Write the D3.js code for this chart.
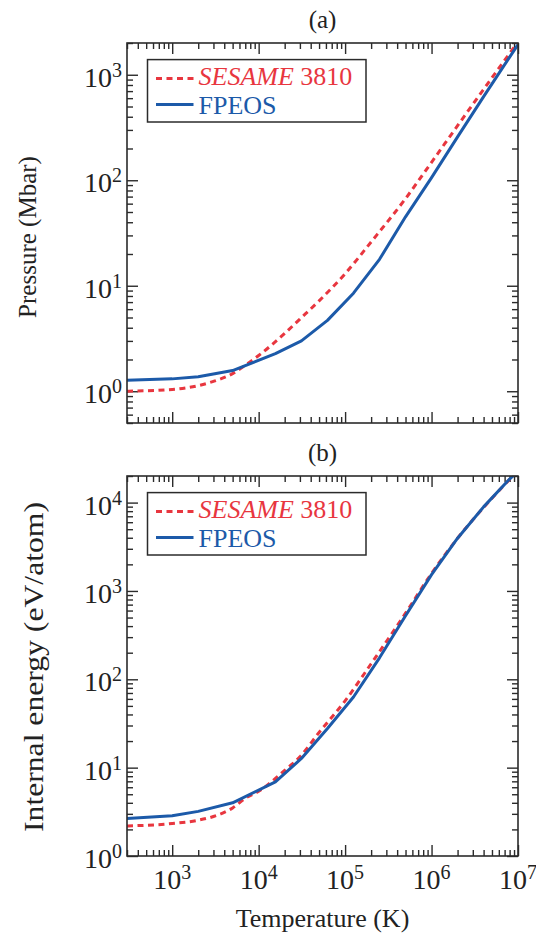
<!DOCTYPE html>
<html>
<head>
<meta charset="utf-8">
<script src="https://cdn.jsdelivr.net/npm/d3@7"></script>
<style>
  html, body { margin: 0; padding: 0; background: #fff; }
  svg { display: block; font-family: "Liberation Serif", "Times New Roman", serif; }
</style>
</head>
<body>
<svg id="chart" width="536" height="934"></svg>
<script>
// Temperature grid (K) and values for each equation-of-state table
const fpeosTemps    = [300, 1000, 2000, 5000, 15625, 31250, 62500, 125000, 250000, 500000, 1e6, 2e6, 4e6, 8e6, 1e7];
const fpeosPressure = [1.27, 1.31, 1.37, 1.57, 2.27, 3.0, 4.7, 8.5, 17.8, 45, 106, 258, 620, 1470, 1930];
const fpeosEnergy   = [2.65, 2.85, 3.2, 4.0, 6.9, 12.7, 27.7, 63, 175, 525, 1530, 3950, 8940, 18460, 22700];

const sesameTemps    = [300, 1000, 2000, 3000, 5000, 7000, 10000, 20000, 30000, 50000, 1e5, 2e5, 5e5, 1e6, 2e6, 5e6, 1e7];
const sesamePressure = [1.0, 1.04, 1.13, 1.24, 1.47, 1.76, 2.18, 3.53, 4.83, 7.19, 13.0, 26.0, 67, 148, 329, 938, 2050];
const sesameEnergy   = [2.19, 2.33, 2.54, 2.8, 3.5, 4.5, 5.4, 9.3, 13.3, 25, 57, 150, 560, 1580, 3950, 11200, 23000];

// Axis ticks (powers of ten) and labels
const xMajor = [1e3, 1e4, 1e5, 1e6, 1e7];
const xLabels = ["3", "4", "5", "6", "7"];
const pressureMajor = [1, 10, 100, 1000];
const pressureLabels = ["0", "1", "2", "3"];
const energyMajor = [1, 10, 100, 1000, 10000];
const energyLabels = ["0", "1", "2", "3", "4"];

const seriesNames = { sesameItalic: "SESAME", sesameRest: " 3810", fpeos: "FPEOS" };
const RED = "#e8363f", BLUE = "#1c5aa9", INK = "#2b2b2b";

const svg = d3.select("#chart");
const left = 127, right = 518;

const x = d3.scaleLog().domain([300, 1e7]).range([left, right]);

function minorTicks(lo, hi) {
  const out = [];
  for (let e = Math.floor(Math.log10(lo)); e <= Math.ceil(Math.log10(hi)); e++) {
    for (let m = 2; m <= 9; m++) {
      const v = m * Math.pow(10, e);
      if (v >= lo * 0.999 && v <= hi * 1.001) out.push(v);
    }
  }
  return out;
}

function panel(cfg) {
  const { top, bottom, yDomain, yMajor, yLabels, fpeosVals, sesameVals, letter,
          yTitle, yTitleX, yTitleY, yTitleSize, yTitleLength, showXLabels, clipId } = cfg;
  const y = d3.scaleLog().domain(yDomain).range([bottom, top]);
  const g = svg.append("g");

  svg.append("clipPath").attr("id", clipId)
    .append("rect").attr("x", left).attr("y", top).attr("width", right - left).attr("height", bottom - top);

  const xMin = minorTicks(300, 1e7).filter(v => !xMajor.includes(v));
  const yMin = minorTicks(yDomain[0], yDomain[1]).filter(v => !yMajor.includes(v));

  function styleAxis(sel) {
    sel.select(".domain").remove();
    sel.selectAll(".tick line").attr("stroke", INK).attr("stroke-width", 1.4);
    sel.selectAll(".tick text").remove();
  }

  // bottom / top axes, ticks pointing inward
  g.append("g").attr("transform", `translate(0,${bottom})`)
    .call(d3.axisBottom(x).tickValues(xMajor).tickSize(-11).tickFormat("")).call(styleAxis);
  g.append("g").attr("transform", `translate(0,${bottom})`)
    .call(d3.axisBottom(x).tickValues(xMin).tickSize(-6).tickFormat("")).call(styleAxis);
  g.append("g").attr("transform", `translate(0,${top})`)
    .call(d3.axisTop(x).tickValues(xMajor).tickSize(-11).tickFormat("")).call(styleAxis);
  g.append("g").attr("transform", `translate(0,${top})`)
    .call(d3.axisTop(x).tickValues(xMin).tickSize(-6).tickFormat("")).call(styleAxis);

  // left / right axes
  g.append("g").attr("transform", `translate(${left},0)`)
    .call(d3.axisLeft(y).tickValues(yMajor).tickSize(-11).tickFormat("")).call(styleAxis);
  g.append("g").attr("transform", `translate(${left},0)`)
    .call(d3.axisLeft(y).tickValues(yMin).tickSize(-6).tickFormat("")).call(styleAxis);
  g.append("g").attr("transform", `translate(${right},0)`)
    .call(d3.axisRight(y).tickValues(yMajor).tickSize(-11).tickFormat("")).call(styleAxis);
  g.append("g").attr("transform", `translate(${right},0)`)
    .call(d3.axisRight(y).tickValues(yMin).tickSize(-6).tickFormat("")).call(styleAxis);

  // curves
  const plot = g.append("g").attr("clip-path", `url(#${clipId})`);
  const sesameLine = d3.line().x(d => x(d[0])).y(d => y(d[1])).curve(d3.curveMonotoneX);
  const fpeosLine = d3.line().x(d => x(d[0])).y(d => y(d[1]));
  plot.append("path")
    .datum(sesameTemps.map((t, i) => [t, sesameVals[i]]))
    .attr("d", sesameLine).attr("fill", "none").attr("stroke", RED)
    .attr("stroke-width", 3).attr("stroke-dasharray", "6,4.5");
  plot.append("path")
    .datum(fpeosTemps.map((t, i) => [t, fpeosVals[i]]))
    .attr("d", fpeosLine).attr("fill", "none").attr("stroke", BLUE)
    .attr("stroke-width", 3).attr("stroke-linejoin", "round");

  // frame
  g.append("rect").attr("x", left).attr("y", top).attr("width", right - left).attr("height", bottom - top)
    .attr("fill", "none").attr("stroke", INK).attr("stroke-width", 1.6);

  // y tick labels
  const yl = g.append("g").attr("fill", "#222");
  yMajor.forEach((v, i) => {
    const t = yl.append("text").attr("x", left - 5).attr("y", y(v) + 12)
      .attr("text-anchor", "end").attr("font-size", 28);
    t.append("tspan").text("10");
    t.append("tspan").attr("dy", -10).attr("font-size", 20).text(yLabels[i]);
  });

  // x tick labels
  if (showXLabels) {
    xMajor.forEach((v, i) => {
      const t = g.append("text").attr("x", x(v)).attr("y", bottom + 33)
        .attr("text-anchor", "middle").attr("font-size", 28).attr("fill", "#222");
      t.append("tspan").text("10");
      t.append("tspan").attr("dy", -10).attr("font-size", 20).text(xLabels[i]);
    });
  }

  // panel letter
  g.append("text").attr("x", (left + right) / 2).attr("y", top - 15)
    .attr("text-anchor", "middle").attr("font-size", 25).attr("fill", "#222").text(letter);

  // y title
  const yt = g.append("text").attr("transform", `translate(${yTitleX},${yTitleY}) rotate(-90)`)
    .attr("text-anchor", "middle").attr("font-size", yTitleSize).attr("fill", "#222").text(yTitle);
  if (yTitleLength) yt.attr("textLength", yTitleLength).attr("lengthAdjust", "spacingAndGlyphs");

  // legend
  const lx = 147.5, ly = top + 16.6;
  const lg = g.append("g");
  lg.append("rect").attr("x", lx).attr("y", ly).attr("width", 218.5).attr("height", 62.4)
    .attr("fill", "#fff").attr("stroke", INK).attr("stroke-width", 1.5);
  lg.append("line").attr("x1", lx + 8.5).attr("x2", lx + 46).attr("y1", ly + 19).attr("y2", ly + 19)
    .attr("stroke", RED).attr("stroke-width", 3).attr("stroke-dasharray", "6,4.5");
  const st = lg.append("text").attr("x", lx + 51).attr("y", ly + 25).attr("font-size", 26).attr("fill", RED);
  st.append("tspan").attr("font-style", "italic").text(seriesNames.sesameItalic);
  st.append("tspan").text(seriesNames.sesameRest);
  lg.append("line").attr("x1", lx + 8.5).attr("x2", lx + 46).attr("y1", ly + 45).attr("y2", ly + 45)
    .attr("stroke", BLUE).attr("stroke-width", 3);
  lg.append("text").attr("x", lx + 51).attr("y", ly + 54).attr("font-size", 26).attr("fill", BLUE)
    .text(seriesNames.fpeos);
}

panel({
  top: 43, bottom: 423, yDomain: [0.5, 2000], yMajor: pressureMajor, yLabels: pressureLabels,
  fpeosVals: fpeosPressure, sesameVals: sesamePressure, letter: "(a)",
  yTitle: "Pressure (Mbar)", yTitleX: 36, yTitleY: 237, yTitleSize: 25, yTitleLength: null,
  showXLabels: false, clipId: "clipA"
});
panel({
  top: 476, bottom: 856, yDomain: [1, 2e4], yMajor: energyMajor, yLabels: energyLabels,
  fpeosVals: fpeosEnergy, sesameVals: sesameEnergy, letter: "(b)",
  yTitle: "Internal energy (eV/atom)", yTitleX: 43, yTitleY: 667, yTitleSize: 28, yTitleLength: 330,
  showXLabels: true, clipId: "clipB"
});

// shared x title
svg.append("text").attr("x", (left + right) / 2).attr("y", 927)
  .attr("text-anchor", "middle").attr("font-size", 26).attr("fill", "#222").text("Temperature (K)");
</script>
</body>
</html>
